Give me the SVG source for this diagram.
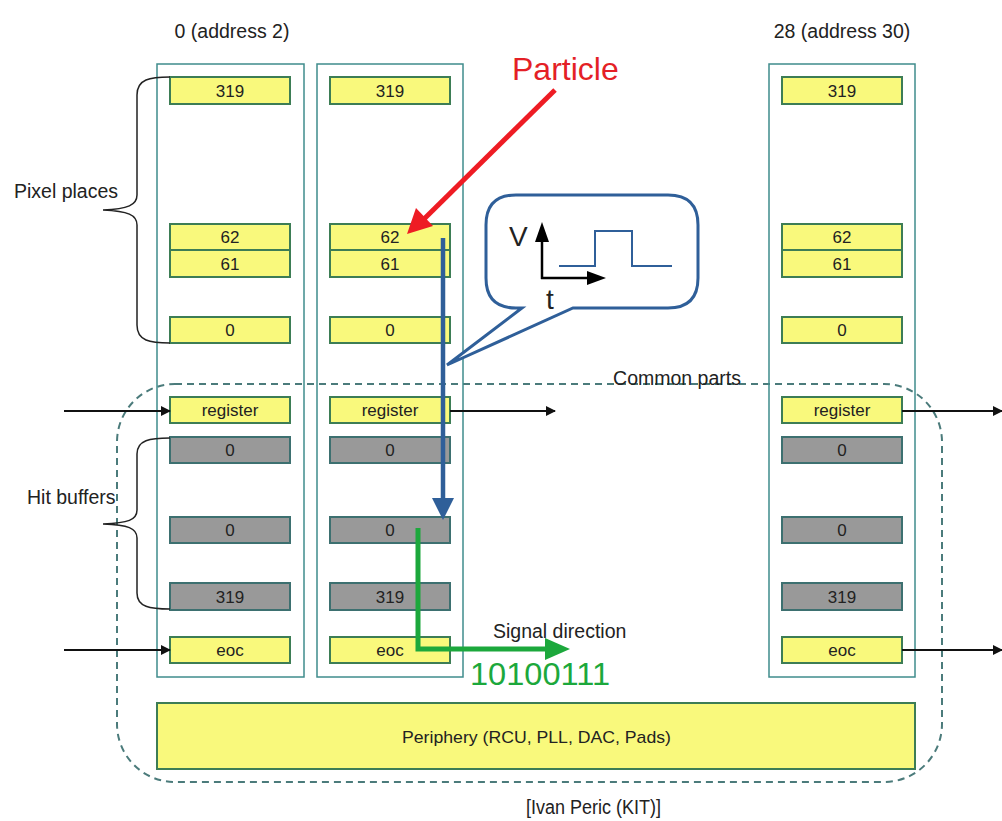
<svg xmlns="http://www.w3.org/2000/svg" width="1002" height="821" viewBox="0 0 1002 821">
<style>
text{font-family:"Liberation Sans",Arial,sans-serif;fill:#222}
.col{fill:none;stroke:#3f8c8c;stroke-width:1.5}
.y{fill:#f9f97c;stroke:#3d7d55;stroke-width:2}
.g{fill:#999999;stroke:#3d7070;stroke-width:2}
.c{font-size:17px;text-anchor:middle}
.lbl{font-size:19.5px}
.blk{stroke:#111;stroke-width:2;fill:none}
.brace{stroke:#222;stroke-width:1.5;fill:none}
</style>
<defs>
<marker id="ab" markerWidth="10" markerHeight="10" refX="9" refY="5" orient="auto" markerUnits="userSpaceOnUse"><path d="M0,0 L10,5 L0,10 Z" fill="#111"/></marker>
</defs>
<rect width="1002" height="821" fill="#fff"/>
<g id="dashed-common">
<rect x="117" y="384" width="825" height="398" rx="58" fill="none" stroke="#4b7b7b" stroke-width="2" stroke-dasharray="7,5"/>
<text class="lbl" x="677" y="385" text-anchor="middle">Common parts</text>
</g>
<g id="headers">
<text class="lbl" x="232" y="38" text-anchor="middle">0 (address 2)</text>
<text class="lbl" x="842" y="38" text-anchor="middle">28 (address 30)</text>
</g>
<g id="col0">
<rect class="col" x="157" y="64" width="147" height="613"/>
<rect class="y" x="170" y="77" width="120" height="27"/><text class="c" x="230" y="97">319</text>
<rect class="y" x="170" y="224" width="120" height="26"/><text class="c" x="230" y="243">62</text>
<rect class="y" x="170" y="250" width="120" height="27"/><text class="c" x="230" y="270">61</text>
<rect class="y" x="170" y="317" width="120" height="26"/><text class="c" x="230" y="336">0</text>
<rect class="y" x="170" y="397" width="120" height="26"/><text class="c" x="230" y="416">register</text>
<rect class="g" x="170" y="437" width="120" height="26"/><text class="c" x="230" y="456">0</text>
<rect class="g" x="170" y="517" width="120" height="26"/><text class="c" x="230" y="536">0</text>
<rect class="g" x="170" y="583" width="120" height="27"/><text class="c" x="230" y="603">319</text>
<rect class="y" x="170" y="637" width="120" height="26"/><text class="c" x="230" y="656">eoc</text>
</g>
<g id="col1">
<rect class="col" x="317" y="64" width="146" height="613"/>
<rect class="y" x="330" y="77" width="120" height="27"/><text class="c" x="390" y="97">319</text>
<rect class="y" x="330" y="224" width="120" height="26"/><text class="c" x="390" y="243">62</text>
<rect class="y" x="330" y="250" width="120" height="27"/><text class="c" x="390" y="270">61</text>
<rect class="y" x="330" y="317" width="120" height="26"/><text class="c" x="390" y="336">0</text>
<rect class="y" x="330" y="397" width="120" height="26"/><text class="c" x="390" y="416">register</text>
<rect class="g" x="330" y="437" width="120" height="26"/><text class="c" x="390" y="456">0</text>
<rect class="g" x="330" y="517" width="120" height="26"/><text class="c" x="390" y="536">0</text>
<rect class="g" x="330" y="583" width="120" height="27"/><text class="c" x="390" y="603">319</text>
<rect class="y" x="330" y="637" width="120" height="26"/><text class="c" x="390" y="656">eoc</text>
</g>
<g id="col28">
<rect class="col" x="769" y="64" width="146" height="613"/>
<rect class="y" x="782" y="77" width="120" height="27"/><text class="c" x="842" y="97">319</text>
<rect class="y" x="782" y="224" width="120" height="26"/><text class="c" x="842" y="243">62</text>
<rect class="y" x="782" y="250" width="120" height="27"/><text class="c" x="842" y="270">61</text>
<rect class="y" x="782" y="317" width="120" height="26"/><text class="c" x="842" y="336">0</text>
<rect class="y" x="782" y="397" width="120" height="26"/><text class="c" x="842" y="416">register</text>
<rect class="g" x="782" y="437" width="120" height="26"/><text class="c" x="842" y="456">0</text>
<rect class="g" x="782" y="517" width="120" height="26"/><text class="c" x="842" y="536">0</text>
<rect class="g" x="782" y="583" width="120" height="27"/><text class="c" x="842" y="603">319</text>
<rect class="y" x="782" y="637" width="120" height="26"/><text class="c" x="842" y="656">eoc</text>
</g>
<g id="periphery">
<rect class="y" x="157" y="703" width="758" height="66"/>
<text x="402" y="743" font-size="17" textLength="269" lengthAdjust="spacingAndGlyphs">Periphery (RCU, PLL, DAC, Pads)</text>
</g>
<g id="braces">
<path class="brace" d="M170,77 C150,77 137,79 137,95 L137,195 C137,205 128,209 103,210 C128,211 137,215 137,225 L137,325 C137,341 150,343 170,343"/>
<text class="lbl" x="14" y="198">Pixel places</text>
<path class="brace" d="M170,438 C150,438 137,440 137,454 L137,510 C137,520 128,523 103,524 C128,525 137,528 137,538 L137,593 C137,607 150,609 170,609"/>
<text class="lbl" x="27" y="504">Hit buffers</text>
</g>
<g id="bubble">
<path d="M516,195 L668,195 Q698,195 698,225 L698,278 Q698,308 668,308 L573,308 L447,365 L522,308 L516,308 Q486,308 486,278 L486,225 Q486,195 516,195 Z" fill="#fff" stroke="#2f5f99" stroke-width="3"/>
<line x1="542" y1="279" x2="542" y2="238" stroke="#000" stroke-width="2.5"/>
<path d="M542,222 L549,242 L535,242 Z" fill="#000"/>
<line x1="541" y1="278" x2="590" y2="278" stroke="#000" stroke-width="2.5"/>
<path d="M606,278 L587,285 L587,271 Z" fill="#000"/>
<path d="M559,266 L595,266 L595,231 L632,231 L632,266 L672,266" fill="none" stroke="#2f5f99" stroke-width="2"/>
<text x="509" y="246" font-size="28" fill="#000">V</text>
<text x="546" y="309" font-size="28" fill="#000">t</text>
</g>
<g id="connectors">
<line class="blk" x1="64" y1="411" x2="170" y2="411" marker-end="url(#ab)"/>
<line class="blk" x1="64" y1="650" x2="170" y2="650" marker-end="url(#ab)"/>
<line class="blk" x1="450" y1="411" x2="555" y2="411" marker-end="url(#ab)"/>
<line class="blk" x1="902" y1="411" x2="1002" y2="411" marker-end="url(#ab)"/>
<line class="blk" x1="902" y1="650" x2="1002" y2="650" marker-end="url(#ab)"/>
<line x1="555" y1="90" x2="422" y2="221" stroke="#ee1c24" stroke-width="5"/>
<path d="M407,234 L416,208 L433,226 Z" fill="#ee1c24"/>
<line x1="443" y1="238" x2="443" y2="502" stroke="#2f5f99" stroke-width="4.5"/>
<path d="M443,520 L432,498 L454,498 Z" fill="#2f5f99"/>
<path d="M418,528 L418,649 L548,649" fill="none" stroke="#1ca83c" stroke-width="5"/>
<path d="M570,649 L545,638 L545,660 Z" fill="#1ca83c"/>
</g>
<g id="labels">
<text x="512" y="80" font-size="32" style="fill:#e41f26">Particle</text>
<text class="lbl" x="493" y="638">Signal direction</text>
<text x="470" y="685" font-size="32" textLength="140" lengthAdjust="spacingAndGlyphs" style="fill:#1ca83c">10100111</text>
<text x="526" y="814" font-size="20" textLength="135" lengthAdjust="spacingAndGlyphs">[Ivan Peric (KIT)]</text>
</g>
</svg>
